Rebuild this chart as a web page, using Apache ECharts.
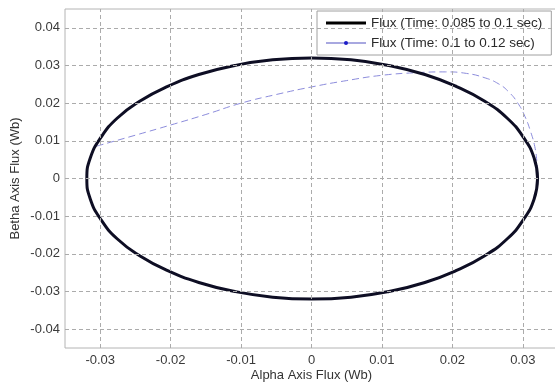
<!DOCTYPE html>
<html>
<head>
<meta charset="utf-8">
<script src="https://cdn.jsdelivr.net/npm/echarts@6/dist/echarts.min.js"></script>
<style>
html,body{margin:0;padding:0;background:#fff;}
#chart{width:555px;height:384px;}
</style>
</head>
<body>
<div id="chart"></div>
<script>
const xTicks = [-0.03, -0.02, -0.01, 0, 0.01, 0.02, 0.03];
const yTicks = [-0.04, -0.03, -0.02, -0.01, 0, 0.01, 0.02, 0.03, 0.04];

const seriesNames = ['Flux (Time: 0.085 to 0.1 sec)', 'Flux (Time: 0.1 to 0.12 sec)'];

// Series 1: flux trajectory 0.085 to 0.1 sec
const alpha1 = [0.0321, 0.0316, 0.0301, 0.0278, 0.0246, 0.0206, 0.0161, 0.0110, 0.0056, 0.0000,
  -0.0055, -0.0109, -0.0160, -0.0205, -0.0244, -0.0276, -0.0299, -0.0314, -0.0319,
  -0.0314, -0.0299, -0.0276, -0.0244, -0.0205, -0.0160, -0.0109, -0.0055, 0.0000,
  0.0056, 0.0110, 0.0161, 0.0206, 0.0246, 0.0278, 0.0301, 0.0316, 0.0321];
const beta1 = [0.0000, 0.0055, 0.0109, 0.0160, 0.0205, 0.0244, 0.0276, 0.0300, 0.0315, 0.0320,
  0.0315, 0.0300, 0.0276, 0.0244, 0.0205, 0.0160, 0.0109, 0.0055, 0.0000,
  -0.0055, -0.0109, -0.0160, -0.0205, -0.0244, -0.0276, -0.0300, -0.0315, -0.0320,
  -0.0315, -0.0300, -0.0276, -0.0244, -0.0205, -0.0160, -0.0109, -0.0055, 0.0000];

// Series 2: flux trajectory 0.1 to 0.12 sec
const alpha2 = [-0.0305, -0.0250, -0.0200, -0.0150, -0.0100, -0.0050, 0.0000, 0.0050, 0.0100, 0.0150,
  0.0190, 0.0220, 0.0245, 0.0265, 0.0280, 0.0293, 0.0303, 0.0311, 0.0317, 0.0320, 0.0321, 0.0319];
const beta2 = [0.0086, 0.0115, 0.0142, 0.0170, 0.0200, 0.0223, 0.0243, 0.0260, 0.0274, 0.0281,
  0.0283, 0.0279, 0.0268, 0.0252, 0.0230, 0.0200, 0.0165, 0.0125, 0.0085, 0.0045, 0.0010, -0.0030];

const pair = (a, b) => a.map((v, i) => [v, b[i]]);
const isTick = (v, ticks) => ticks.some(t => Math.abs(t - v) < 1e-9);
const fmt = v => {
  const r = Math.round(v * 100) / 100;
  return r === 0 ? '0' : r.toFixed(2);
};

const gridLines = xTicks.map(v => ({ xAxis: v })).concat(yTicks.map(v => ({ yAxis: v })));

const chart = echarts.init(document.getElementById('chart'), null, { renderer: 'canvas' });
const font = 'Liberation Sans, Arial, Helvetica, sans-serif';

chart.setOption({
  animation: false,
  backgroundColor: '#fff',
  textStyle: { fontFamily: font },
  grid: {
    left: 65, top: 9, width: 493, height: 339,
    containLabel: false, outerBoundsMode: 'none',
    show: true, borderColor: '#b4b4b4', borderWidth: 1, backgroundColor: '#fff'
  },
  xAxis: {
    type: 'value', min: -0.035, max: 0.035, interval: 0.005,
    name: 'Alpha Axis Flux (Wb)', nameLocation: 'middle', nameGap: 21, nameMoveOverlap: false,
    nameTextStyle: { fontSize: 13, color: '#333', fontFamily: font },
    axisLine: { show: false }, axisTick: { show: false }, splitLine: { show: false },
    axisLabel: {
      fontSize: 13, color: '#3a3a3a', fontFamily: font, margin: 6,
      formatter: v => isTick(Math.round(v * 1000) / 1000, xTicks) ? fmt(v) : ''
    }
  },
  yAxis: {
    type: 'value', min: -0.045, max: 0.045, interval: 0.005,
    name: 'Betha Axis Flux (Wb)', nameLocation: 'middle', nameGap: 43, nameMoveOverlap: false,
    nameTextStyle: { fontSize: 13, color: '#333', fontFamily: font },
    axisLine: { show: false }, axisTick: { show: false }, splitLine: { show: false },
    axisLabel: {
      fontSize: 13, color: '#3a3a3a', fontFamily: font, margin: 5,
      formatter: v => isTick(Math.round(v * 1000) / 1000, yTicks) ? fmt(v) : ''
    }
  },
  legend: {
    orient: 'vertical', left: 317, top: 11,
    backgroundColor: '#fff', borderColor: '#a0a0a0', borderWidth: 1,
    padding: [5, 9, 5, 8], itemGap: 6, itemWidth: 40, itemHeight: 5,
    textStyle: { fontSize: 13.5, color: '#2a2a2a', fontFamily: font },
    data: [
      { name: seriesNames[0], icon: 'path://M0,0H40V3H0Z', itemStyle: { color: '#000' } },
      { name: seriesNames[1], lineStyle: { type: 'solid', color: '#a8a8e0' } }
    ]
  },
  series: [
    {
      name: 'grid',
      type: 'line',
      data: [],
      z: 1,
      silent: true,
      markLine: {
        silent: true,
        symbol: ['none', 'none'],
        label: { show: false },
        lineStyle: { color: '#ababab', type: [4, 3], width: 1 },
        animation: false,
        data: gridLines
      }
    },
    {
      name: seriesNames[1],
      type: 'line',
      data: pair(alpha2, beta2),
      z: 3,
      smooth: true,
      showSymbol: false,
      symbol: 'circle',
      symbolSize: 4,
      itemStyle: { color: '#1c1cc8' },
      lineStyle: { color: '#8c8cdc', width: 1, type: [7, 4] }
    },
    {
      name: seriesNames[0],
      type: 'line',
      data: pair(alpha1, beta1),
      z: 4,
      smooth: true,
      showSymbol: false,
      symbol: 'none',
      itemStyle: { color: '#0e0e24' },
      lineStyle: { color: '#0e0e24', width: 3 }
    }
  ]
});
</script>
</body>
</html>
